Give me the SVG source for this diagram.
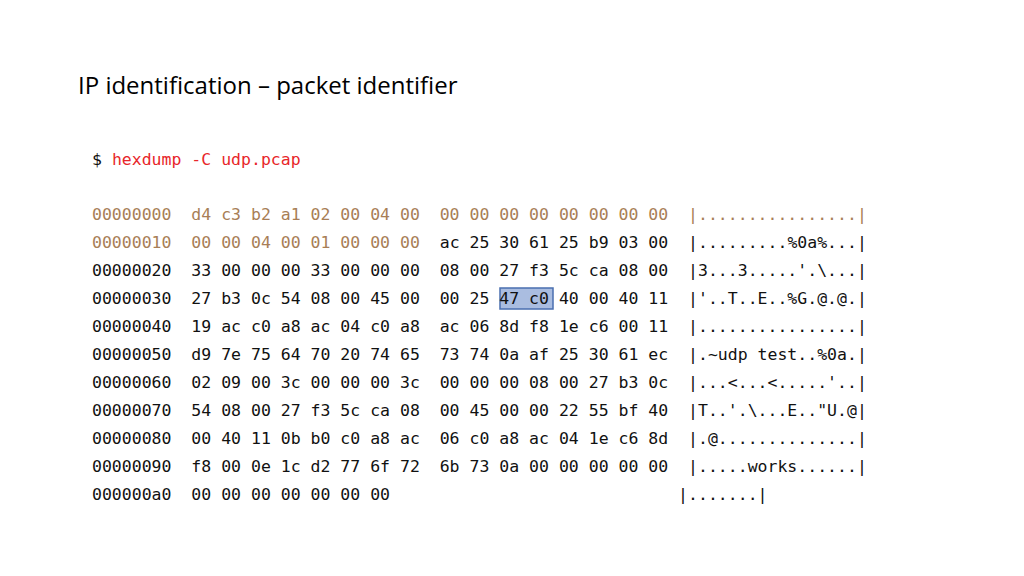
<svg xmlns="http://www.w3.org/2000/svg" width="1024" height="576" viewBox="0 0 1024 576">
<style>
.t{font-family:"Open Sans","Liberation Sans",sans-serif;font-size:24px;fill:#000}
.m{font-family:"DejaVu Sans Mono",monospace;font-size:16.5px;fill:#111;white-space:pre}
.b{fill:#a87e56}
.r{fill:#e8262a}
</style>
<rect width="1024" height="576" fill="#fff"/>
<text class="t" x="78" y="94">IP identification – packet identifier</text>
<rect x="500" y="288" width="53" height="21" fill="#aabde0" stroke="#4a6fb0" stroke-width="1.5"/>
<g xml:space="preserve">
<text class="m" x="92" y="165">$ <tspan class="r">hexdump -C udp.pcap</tspan></text>
<text class="m b" x="92" y="220">00000000  d4 c3 b2 a1 02 00 04 00  00 00 00 00 00 00 00 00  |................|</text>
<text class="m" x="92" y="248"><tspan class="b">00000010  00 00 04 00 01 00 00 00</tspan>  ac 25 30 61 25 b9 03 00  |.........%0a%...|</text>
<text class="m" x="92" y="276">00000020  33 00 00 00 33 00 00 00  08 00 27 f3 5c ca 08 00  |3...3.....'.\...|</text>
<text class="m" x="92" y="304">00000030  27 b3 0c 54 08 00 45 00  00 25 47 c0 40 00 40 11  |'..T..E..%G.@.@.|</text>
<text class="m" x="92" y="332">00000040  19 ac c0 a8 ac 04 c0 a8  ac 06 8d f8 1e c6 00 11  |................|</text>
<text class="m" x="92" y="360">00000050  d9 7e 75 64 70 20 74 65  73 74 0a af 25 30 61 ec  |.~udp test..%0a.|</text>
<text class="m" x="92" y="388">00000060  02 09 00 3c 00 00 00 3c  00 00 00 08 00 27 b3 0c  |...&lt;...&lt;.....'..|</text>
<text class="m" x="92" y="416">00000070  54 08 00 27 f3 5c ca 08  00 45 00 00 22 55 bf 40  |T..'.\...E.."U.@|</text>
<text class="m" x="92" y="444">00000080  00 40 11 0b b0 c0 a8 ac  06 c0 a8 ac 04 1e c6 8d  |.@..............|</text>
<text class="m" x="92" y="472">00000090  f8 00 0e 1c d2 77 6f 72  6b 73 0a 00 00 00 00 00  |.....works......|</text>
<text class="m" x="92" y="500">000000a0  00 00 00 00 00 00 00                             |.......|</text>
</g>
</svg>
